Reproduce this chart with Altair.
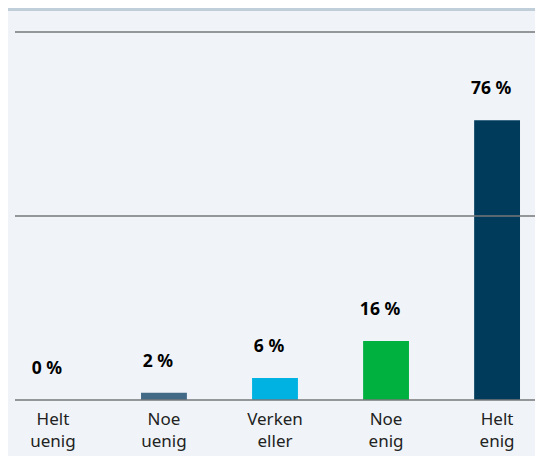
import altair as alt
import pandas as pd

categories = ["Helt uenig", "Noe uenig", "Verken eller", "Noe enig", "Helt enig"]
values = [0, 2, 6, 16, 76]
colors = ["#426a86", "#426a86", "#00b2e2", "#00b140", "#003b5c"]
grid_values = [0, 50, 100]

PANEL = "#f0f4f8"
BORDER = "#c0ced9"
FONT = "Noto Sans"

df = pd.DataFrame({
    "cat": categories,
    "val": values,
    "label": [f"{v} %" for v in values],
})
grid_df = pd.DataFrame({"v": grid_values})
stripe_df = pd.DataFrame({"a": [0]})

xscale = alt.Scale(domain=categories, paddingInner=0.587, paddingOuter=0.135)
yscale = alt.Scale(domain=[0, 100], nice=False)

base = alt.Chart(df)

bars = base.mark_bar().encode(
    x=alt.X("cat:N", sort=categories, scale=xscale,
            axis=alt.Axis(title=None, labelAngle=0, domain=False, ticks=False,
                          labelFontSize=17, labelColor="#222222", labelFont=FONT,
                          labelPadding=11, labelLineHeight=22,
                          labelExpr="split(datum.label, ' ')")),
    y=alt.Y("val:Q", scale=yscale, axis=None),
    color=alt.Color("cat:N", scale=alt.Scale(domain=categories, range=colors), legend=None),
)

text = base.mark_text(dy=-31, dx=-6, fontSize=17.5, fontWeight="bold",
                      color="#000000", baseline="middle", font=FONT).encode(
    x=alt.X("cat:N", sort=categories, scale=xscale),
    y=alt.Y("val:Q", scale=yscale, axis=None),
    text="label:N",
)

rules = alt.Chart(grid_df).mark_rule(color="#777777", strokeWidth=1.5).encode(
    y=alt.Y("v:Q", scale=yscale, axis=None),
)

stripe = alt.Chart(stripe_df).mark_rect(color=BORDER).encode(
    x=alt.value(-7), x2=alt.value(530), y=alt.value(-24), y2=alt.value(-21),
)

chart = alt.layer(stripe, bars, rules, text).properties(
    width=520, height=368,
    background=PANEL,
    padding={"left": 7, "top": 24, "right": 0, "bottom": 56},
    autosize=alt.AutoSizeParams(type="none"),
).configure_view(stroke=None)

chart.save("out.html", embed_options={"renderer": "svg", "actions": False})
